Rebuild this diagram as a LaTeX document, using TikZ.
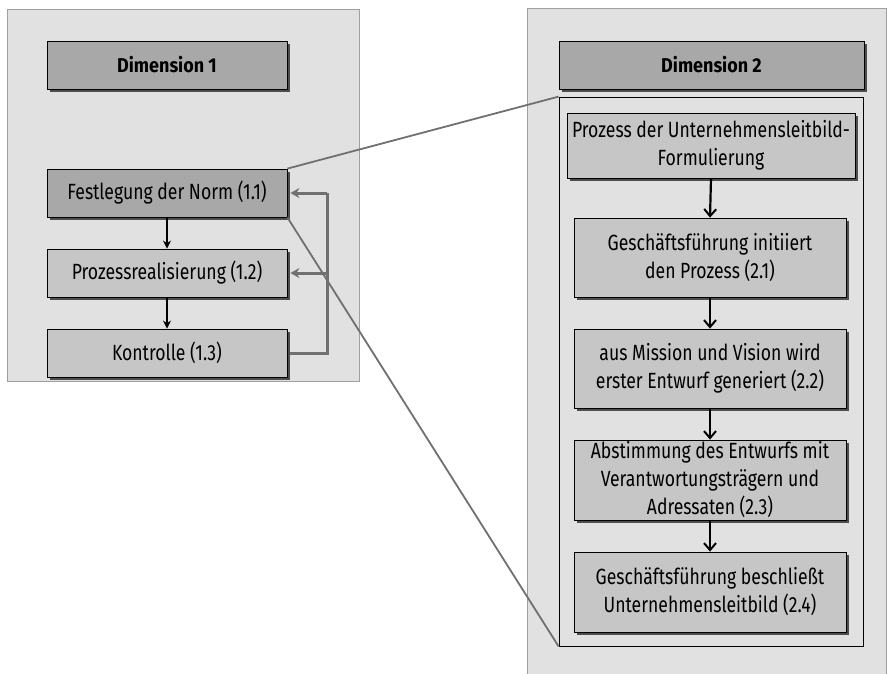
\documentclass[tikz,border=0pt]{standalone}
\usepackage{fontspec}
\setmainfont{Fira Sans}[FakeStretch=0.8, BoldFeatures={FakeStretch=0.9}]
\usetikzlibrary{shadows,arrows.meta,calc}
\definecolor{panelbg}{HTML}{E1E1E1}
\definecolor{panelrule}{HTML}{9F9F9F}
\definecolor{boxdark}{HTML}{A8A8A8}
\definecolor{boxlight}{HTML}{C6C6C6}
\definecolor{shadowgray}{HTML}{4D4D4D}
\definecolor{linkgray}{HTML}{707070}
\begin{document}
\begin{tikzpicture}[x=1pt,y=-1pt,
  panel/.style={draw=panelrule, fill=panelbg, line width=1pt},
  stepbox/.style={draw=black, line width=0.8pt, fill=boxlight, align=center,
    inner sep=0pt, font=\fontsize{22}{28}\selectfont,
    drop shadow={shadow xshift=3pt, shadow yshift=-3pt, fill=shadowgray, opacity=1}},
  headbox/.style={stepbox, fill=boxdark, font=\fontsize{20}{24}\selectfont\bfseries},
  leftbox/.style={stepbox, minimum width=240pt, minimum height=48pt},
  rightbox/.style={stepbox, minimum width=272pt, minimum height=79pt},
  flow/.style={draw=black, line width=2.2pt, -{Stealth[length=8pt,width=8pt]}},
  flowv/.style={draw=black, line width=2.2pt, -{Straight Barb[length=7pt,width=12pt,line width=2pt]}},
  feedback/.style={draw=linkgray, line width=3pt, -{Stealth[length=9pt,width=10pt]}},
  zoomline/.style={draw=linkgray, line width=1.8pt}]
\useasboundingbox (0,0) rectangle (887,673);

% panels
\draw[panel] (7,9) rectangle (359,381);
\draw[panel] (527,8) rectangle (886,680);

% dimension 1
\node[headbox, minimum width=240pt, minimum height=48pt] (d1) at (167,65) {Dimension 1};
\node[leftbox, fill=boxdark] (n11) at (167,193) {Festlegung der Norm (1.1)};
\node[leftbox] (n12) at (167,273) {Prozessrealisierung (1.2)};
\node[leftbox] (n13) at (167,353) {Kontrolle (1.3)};

\draw[flow] (n11.south) -- (n12.north);
\draw[flow] (n12.south) -- (n13.north);

\coordinate (fb) at ($(n13.east)+(40,0)$);
\draw[feedback, -] ($(n13.east)+(3,0)$) -- (fb) -- (fb |- n11.east);
\draw[feedback] (fb |- n11.east) -- ($(n11.east)+(3,0)$);
\draw[feedback] (fb |- n12.east) -- ($(n12.east)+(3,0)$);

% dimension 2
\node[headbox, minimum width=305pt, minimum height=48pt] (d2) at (711.5,65) {Dimension 2};
\node[draw=black, line width=0.8pt, minimum width=304pt, minimum height=549pt, inner sep=0pt] (frame) at (711,371.5) {};
\node[stepbox, minimum width=288pt, minimum height=65pt] (p0) at (711,145.5)
  {Prozess der Unternehmensleitbild-\\Formulierung};
\node[rightbox] (p1) at (710,257.5) {Geschäftsführung initiiert\\den Prozess (2.1)};
\node[rightbox] (p2) at (710,368.5) {aus Mission und Vision wird\\erster Entwurf generiert (2.2)};
\node[rightbox, minimum height=80pt] (p3) at (710,480) {Abstimmung des Entwurfs mit\\Verantwortungsträgern und\\Adressaten (2.3)};
\node[rightbox, minimum height=80pt] (p4) at (710,592) {Geschäftsführung beschließt\\Unternehmensleitbild (2.4)};

\draw[flowv] (p0.south) -- (p1.north);
\draw[flowv] (p1.south) -- (p2.north);
\draw[flowv] (p2.south) -- (p3.north);
\draw[flowv] (p3.south) -- (p4.north);

% zoom lines from 1.1 into the detail of dimension 2
\draw[zoomline] (n11.north east) -- (frame.north west);
\draw[zoomline] (n11.south east) -- (frame.south west);
\end{tikzpicture}
\end{document}
